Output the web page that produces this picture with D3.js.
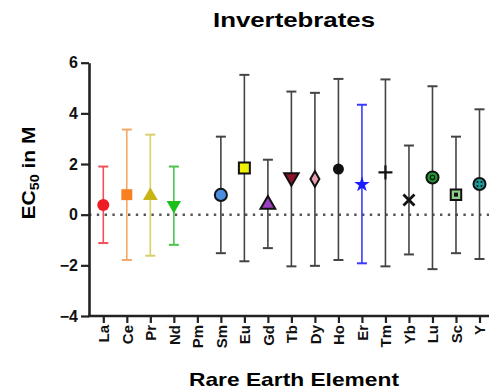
<!DOCTYPE html>
<html>
<head>
<meta charset="utf-8">
<script src="https://cdn.jsdelivr.net/npm/d3@7"></script>
<style>
  body { margin: 0; background: #fff; }
  svg { display: block; font-family: "Liberation Sans", Arial, sans-serif; }
</style>
</head>
<body>
<svg width="489" height="390"></svg>
<script>
  // data
  const elements = ["La", "Ce", "Pr", "Nd", "Pm", "Sm", "Eu", "Gd", "Tb", "Dy", "Ho", "Er", "Tm", "Yb", "Lu", "Sc", "Y"]
  const mean  = [0.38, 0.79, 0.75, 0.38, null, 0.78, 1.84, 0.40, 1.47, 1.41, 1.80, 1.19, 1.67, 0.58, 1.47, 0.79, 1.21]
  const upper = [1.90, 3.36, 3.16, 1.90, null, 3.08, 5.52, 2.17, 4.86, 4.81, 5.36, 4.34, 5.34, 2.73, 5.07, 3.08, 4.16]
  const lower = [-1.12, -1.79, -1.62, -1.19, null, -1.52, -1.84, -1.32, -2.04, -2.02, -1.79, -1.92, -2.04, -1.57, -2.15, -1.52, -1.75]
  const yTicks = [-4, -2, 0, 2, 4, 6]

  // marker style per element
  const barColor = ["#f0505a", "#f5a868", "#d9cf6a", "#4cc44c", "#333", "#444", "#444", "#444", "#444", "#444", "#444", "#3a3aff", "#444", "#444", "#444", "#444", "#444"]
  const shape = ["circle", "square", "triangle", "triangleDown", null, "circle", "square", "triangle", "triangleDown", "diamond", "hexagon", "star", "plus", "cross", "ring", "squareIn", "dots"]
  const fill = ["#f01c24", "#f88020", "#c8b414", "#1cc01c", null, "#4a8ee0", "#f0f000", "#9a40c0", "#8c1428", "#e8a0b0", "#111", "#1c1cff", "#111", "#111", "#1c9a2c", "#8cd08c", "#1c9a9a"]
  const stroke = ["none", "none", "none", "none", null, "#111", "#111", "#111", "#111", "#111", "#111", "none", "#111", "#111", "#111", "#111", "#111"]

  const svg = d3.select("svg")
  const x = d3.scalePoint().domain(elements).range([103.3, 479.5])
  const y = d3.scaleLinear().domain([-4, 6]).range([316, 62.7])
  const x0 = 89

  // title
  svg.append("text").attr("x", 294).attr("y", 27).attr("text-anchor", "middle")
    .attr("font-size", 21).attr("font-weight", "bold")
    .attr("textLength", 162).attr("lengthAdjust", "spacingAndGlyphs").text("Invertebrates")

  // zero line
  svg.append("line").attr("x1", x0).attr("x2", 489).attr("y1", y(0)).attr("y2", y(0))
    .attr("stroke", "#555").attr("stroke-width", 2.6).attr("stroke-dasharray", "2.4,5.4")

  // y axis
  const yAxis = svg.append("g").attr("transform", `translate(${x0},0)`)
    .call(d3.axisLeft(y).tickValues(yTicks).tickSize(8).tickSizeOuter(0).tickFormat(d3.format("d")))
  yAxis.select(".domain").attr("stroke", "#222").attr("stroke-width", 2.6)
  yAxis.selectAll(".tick line").attr("stroke", "#222").attr("stroke-width", 2.2)
  yAxis.selectAll(".tick text").attr("font-size", 16).attr("font-weight", "bold")
    .attr("font-family", "Liberation Sans, Arial").attr("fill", "#111").attr("x", -11)

  // x axis
  const xAxis = svg.append("g").attr("transform", `translate(0,${y(-4)})`)
    .call(d3.axisBottom(x).tickSize(7).tickSizeOuter(0))
  xAxis.select(".domain").attr("d", `M${x0 - 1},0H495`).attr("stroke", "#222").attr("stroke-width", 2.6)
  xAxis.selectAll(".tick line").attr("stroke", "#222").attr("stroke-width", 2.2)
  xAxis.selectAll(".tick text").attr("font-size", 15).attr("font-weight", "bold")
    .attr("font-family", "Liberation Sans, Arial").attr("fill", "#111")
    .attr("transform", "rotate(-90)").attr("text-anchor", "end")
    .attr("x", -9).attr("y", 0).attr("dy", "0.36em")

  // axis labels
  const yl = svg.append("text").attr("transform", "translate(35,173) rotate(-90)")
    .attr("text-anchor", "middle").attr("font-size", 17.5).attr("font-weight", "bold")
    .attr("textLength", 93).attr("lengthAdjust", "spacingAndGlyphs")
  yl.append("tspan").text("EC")
  yl.append("tspan").attr("font-size", 12).attr("dy", 4).text("50")
  yl.append("tspan").attr("dy", -4).text(" in M")

  svg.append("text").attr("x", 294).attr("y", 386).attr("text-anchor", "middle")
    .attr("font-size", 18.5).attr("font-weight", "bold")
    .attr("textLength", 210).attr("lengthAdjust", "spacingAndGlyphs").text("Rare Earth Element")

  // error bars
  const idx = d3.range(elements.length).filter(i => mean[i] !== null)
  const bars = svg.append("g").selectAll("g").data(idx).join("g")
    .attr("stroke", i => barColor[i]).attr("stroke-width", 1.6)
  bars.append("line").attr("x1", i => x(elements[i])).attr("x2", i => x(elements[i]))
    .attr("y1", i => y(upper[i])).attr("y2", i => y(lower[i]))
  bars.append("line").attr("x1", i => x(elements[i]) - 5).attr("x2", i => x(elements[i]) + 5)
    .attr("y1", i => y(upper[i])).attr("y2", i => y(upper[i])).attr("stroke-width", 2)
  bars.append("line").attr("x1", i => x(elements[i]) - 5).attr("x2", i => x(elements[i]) + 5)
    .attr("y1", i => y(lower[i])).attr("y2", i => y(lower[i])).attr("stroke-width", 2)

  // markers
  const symbolOf = {
    circle: d3.symbolCircle, square: d3.symbolSquare, triangle: d3.symbolTriangle,
    diamond: d3.symbolDiamond, star: d3.symbolStar, ring: d3.symbolCircle,
    squareIn: d3.symbolSquare, dots: d3.symbolCircle
  }
  const sizeOf = { circle: 115, square: 120, triangle: 95, triangleDown: 90, diamond: 70, hexagon: 80, star: 75, ring: 115, squareIn: 110, dots: 115 }
  const marks = svg.append("g").selectAll("g").data(idx).join("g")
    .attr("transform", i => `translate(${x(elements[i])},${y(mean[i])})`)
  marks.each(function (i) {
    const g = d3.select(this)
    const s = shape[i]
    const sw = stroke[i] === "none" ? 0 : 2
    if (s === "plus" || s === "cross") {
      const len = 7
      const lines = s === "plus" ? [[-len, 0, len, 0], [0, -len, 0, len]] : [[-5.5, -5.5, 5.5, 5.5], [-5.5, 5.5, 5.5, -5.5]]
      lines.forEach(l => g.append("line").attr("x1", l[0]).attr("y1", l[1]).attr("x2", l[2]).attr("y2", l[3])
        .attr("stroke", "#111").attr("stroke-width", s === "plus" ? 2.2 : 2.8))
      return
    }
    if (s === "triangleDown") {
      g.append("path").attr("d", d3.symbol(d3.symbolTriangle, sizeOf[s])()).attr("transform", "rotate(180)")
        .attr("fill", fill[i]).attr("stroke", stroke[i]).attr("stroke-width", sw)
      return
    }
    if (s === "hexagon") {
      g.append("circle").attr("r", 5.5).attr("fill", fill[i])
      return
    }
    g.append("path").attr("d", d3.symbol(symbolOf[s], sizeOf[s])())
      .attr("fill", fill[i]).attr("stroke", stroke[i]).attr("stroke-width", sw)
    if (s === "ring") g.append("circle").attr("r", 2.2).attr("fill", "none").attr("stroke", "#111").attr("stroke-width", 1.2)
    if (s === "squareIn") g.append("rect").attr("x", -2).attr("y", -2).attr("width", 4).attr("height", 4).attr("fill", "#111")
    if (s === "dots") [[-2, -2], [2, -2], [-2, 2], [2, 2]].forEach(d => g.append("circle").attr("cx", d[0]).attr("cy", d[1]).attr("r", 1).attr("fill", "#111"))
  })
</script>
</body>
</html>
